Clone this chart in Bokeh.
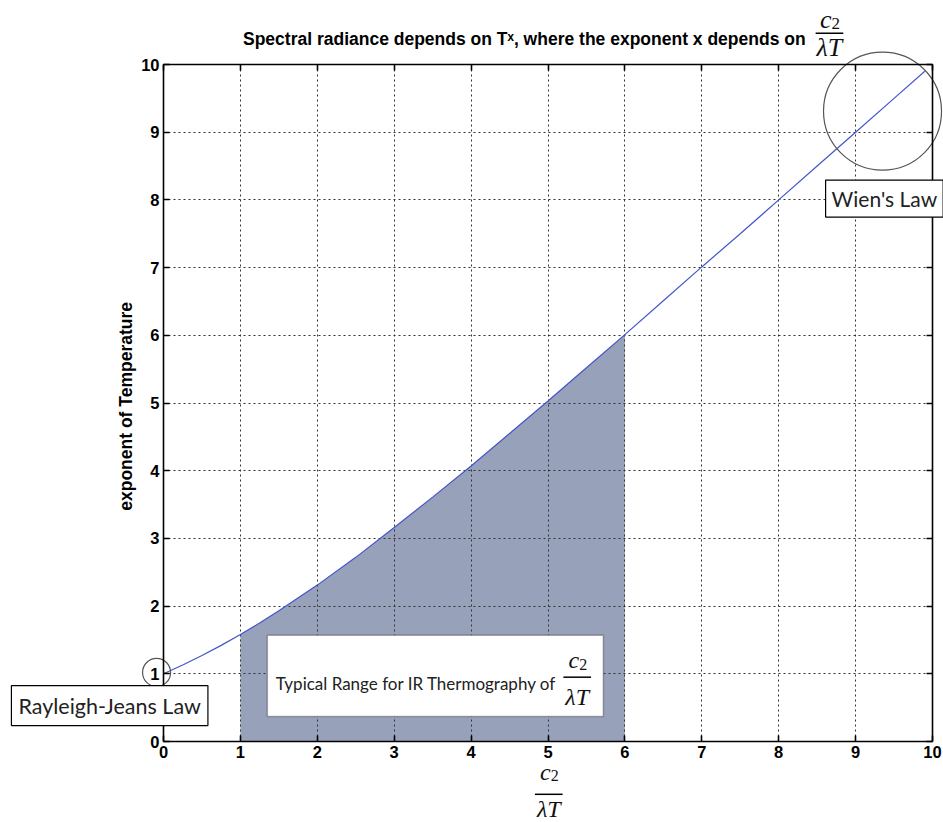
import math
from bokeh.plotting import figure
from bokeh.models import (Range1d, FixedTicker, LinearAxis, Label, Arrow,
                          BoxAnnotation, Grid)
from bokeh.embed import file_html
from bokeh.resources import INLINE

# ---- data ----
ratio = [0, 0.25, 0.5, 0.75, 1, 1.25, 1.5, 2, 2.5, 3, 3.5, 4, 4.5, 5, 5.5, 6,
         6.5, 7, 7.5, 8, 8.5, 9, 9.5, 9.9]
exponent = [1.00, 1.13, 1.27, 1.42, 1.58, 1.75, 1.93, 2.31, 2.72, 3.16, 3.61,
            4.07, 4.55, 5.03, 5.52, 6.01, 6.51, 7.01, 7.50, 8.00, 8.50, 9.00,
            9.50, 9.90]
ir_range = (1, 6)
ticks = [0, 1, 2, 3, 4, 5, 6, 7, 8, 9, 10]
axis_min, axis_max = 0, 10

title_text = "Spectral radiance depends on T\u02e3, where the exponent x depends on"
ylabel_text = "exponent of Temperature"
box_text = "Typical Range for IR Thermography of"
rj_text = "Rayleigh-Jeans Law"
wien_text = "Wien's Law"

W, H = 943, 822
# frame covers the whole canvas; the [0,10] box sits at 163..932 x 64..741 px
XPX, YPX = 76.9, 67.7
x_range = Range1d(axis_min - 163 / XPX, axis_max + 11 / XPX)
y_range = Range1d(axis_min - 81 / YPX, axis_max + 64 / YPX)

p = figure(width=W, height=H, output_backend="svg", toolbar_location=None,
           x_range=x_range, y_range=y_range, x_axis_type=None, y_axis_type=None,
           min_border=0, min_border_left=0, min_border_right=0,
           min_border_top=0, min_border_bottom=0,
           background_fill_color="white", border_fill_color="white")
p.outline_line_color = None
p.grid.visible = False


def make_axis(loc, fixed, labels):
    ax = LinearAxis(ticker=FixedTicker(ticks=ticks), fixed_location=fixed,
                    bounds=(axis_min, axis_max), major_tick_in=6,
                    major_tick_out=0, minor_tick_line_color=None,
                    axis_line_width=1.6, major_tick_line_width=1.6,
                    axis_line_color="black", major_tick_line_color="black",
                    major_label_text_font="Liberation Sans",
                    major_label_text_font_style="bold",
                    major_label_text_font_size="16.5px",
                    major_label_text_color="black",
                    major_label_standoff=4)
    if not labels:
        ax.major_label_overrides = {t: "" for t in ticks}
    p.add_layout(ax, loc)


make_axis("below", axis_min, True)
make_axis("left", axis_min, True)
make_axis("above", axis_max, False)
make_axis("right", axis_max, False)

for dim in (0, 1):
    g = Grid(dimension=dim, ticker=FixedTicker(ticks=ticks),
             bounds=(axis_min, axis_max), cross_bounds=(axis_min, axis_max),
             grid_line_color="#333333", grid_line_dash="2 3", grid_line_width=1)
    p.add_layout(g)

# shaded IR range under curve
sx = [x for x in ratio if ir_range[0] <= x <= ir_range[1]]
sy = [y for x, y in zip(ratio, exponent) if ir_range[0] <= x <= ir_range[1]]
p.varea(x=sx, y1=[0] * len(sx), y2=sy, fill_color="#97a1b9", fill_alpha=1.0,
        level="underlay")

p.line(ratio, exponent, line_color="#4455cc", line_width=1.2)

SERIF = "Liberation Serif"


def fraction(xc, y_c, y_line, y_lam, half_w, size):
    p.add_layout(Label(x=xc, y=y_c, text="c", text_font=SERIF,
                       text_font_style="italic", text_font_size=f"{size}px",
                       text_align="right", text_baseline="middle", x_offset=2,
                       text_color="#111111"))
    p.add_layout(Label(x=xc, y=y_c, text="2", text_font=SERIF,
                       text_font_size=f"{int(size * 0.68)}px",
                       text_align="left", text_baseline="middle", x_offset=2,
                       y_offset=-4, text_color="#111111"))
    p.add_layout(Arrow(end=None, x_start=xc - half_w, x_end=xc + half_w,
                       y_start=y_line, y_end=y_line, line_width=1.5,
                       line_color="black"))
    p.add_layout(Label(x=xc, y=y_lam, text="\u03bbT", text_font=SERIF,
                       text_font_style="italic", text_font_size=f"{size}px",
                       text_align="center", text_baseline="middle",
                       text_color="#111111"))


# title
p.add_layout(Label(x=8.35, y=10.38, text=title_text, text_font="Liberation Sans",
                   text_font_style="bold", text_font_size="17.5px",
                   text_align="right", text_baseline="middle",
                   text_color="black"))
fraction(8.66, 10.66, 10.46, 10.25, 0.18, 26)

# x axis label fraction
fraction(5.01, -0.45, -0.78, -0.99, 0.18, 24)

# y axis label
p.add_layout(Label(x=-0.49, y=4.95, text=ylabel_text, text_font="Liberation Sans",
                   text_font_style="bold", text_font_size="17.5px",
                   angle=math.pi / 2, text_align="center",
                   text_baseline="middle", text_color="black"))

# typical range box
p.add_layout(BoxAnnotation(left=1.35, right=5.72, bottom=0.37, top=1.57,
                           fill_color="white", fill_alpha=1.0,
                           line_color="black", line_width=1.5))
p.add_layout(Label(x=1.46, y=0.86, text=box_text, text_font="Lato",
                   text_font_size="17px", text_align="left",
                   text_baseline="middle", text_color="#222222"))
fraction(5.38, 1.20, 0.95, 0.65, 0.18, 24)

# circles
p.scatter(x=[9.35], y=[9.31], size=118, marker="circle", fill_alpha=0,
          line_color="#555555", line_width=1.2)
p.scatter(x=[-0.09], y=[1.02], size=28, marker="circle", fill_alpha=0,
          line_color="#555555", line_width=1.2)

# callout boxes
p.add_layout(Label(x=-0.70, y=0.53, text=rj_text, text_font="Lato",
                   text_font_size="21.5px", text_align="center",
                   text_baseline="middle", text_color="#222222",
                   background_fill_color="white", border_line_color="black",
                   border_line_width=1.2, padding=7))
p.add_layout(Label(x=8.61, y=8.02, text=wien_text, text_font="Lato",
                   text_font_size="21px", text_align="left",
                   text_baseline="middle", text_color="#222222",
                   background_fill_color="white", border_line_color="black",
                   border_line_width=1.2, padding=6))

open("out.html", "w").write(file_html(p, INLINE))
